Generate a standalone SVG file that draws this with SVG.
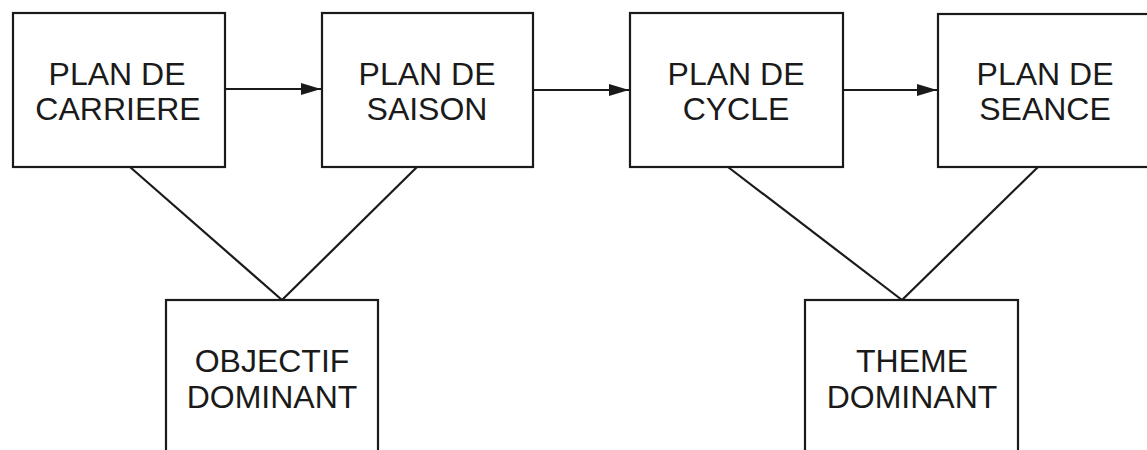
<svg xmlns="http://www.w3.org/2000/svg" width="1147" height="450" viewBox="0 0 1147 450">
<style>
.box{fill:#fff;stroke:#1a1a1a;stroke-width:2.2}
.lbl{font-family:"Liberation Sans",Arial,sans-serif;font-size:32px;fill:#1a1a1a;text-anchor:middle}
.ln{stroke:#1a1a1a;stroke-width:2.2;fill:none}
</style>
<defs>
<marker id="ah" viewBox="0 0 20 12" refX="20" refY="6" markerWidth="20" markerHeight="12" markerUnits="userSpaceOnUse" orient="auto">
<path d="M0,0 L20,6 L0,12 Z" fill="#1a1a1a"/>
</marker>
</defs>
<rect width="1147" height="450" fill="#fff"/>
<g id="connectors">
<line class="ln" x1="225" y1="89" x2="321" y2="89" marker-end="url(#ah)"/>
<line class="ln" x1="533" y1="90" x2="629" y2="90" marker-end="url(#ah)"/>
<line class="ln" x1="843" y1="90" x2="937" y2="90" marker-end="url(#ah)"/>
<line class="ln" x1="130" y1="167" x2="282" y2="300"/>
<line class="ln" x1="417" y1="167" x2="282" y2="300"/>
<line class="ln" x1="728" y1="167" x2="902" y2="300"/>
<line class="ln" x1="1038" y1="167" x2="902" y2="300"/>
</g>
<g id="plan-carriere">
<rect class="box" x="13" y="13" width="212" height="154"/>
<text class="lbl" x="117" y="85">PLAN DE</text>
<text class="lbl" x="118" y="120">CARRIERE</text>
</g>
<g id="plan-saison">
<rect class="box" x="322" y="13" width="211" height="154"/>
<text class="lbl" x="427" y="85">PLAN DE</text>
<text class="lbl" x="427" y="120">SAISON</text>
</g>
<g id="plan-cycle">
<rect class="box" x="630" y="13" width="213" height="154"/>
<text class="lbl" x="736" y="85">PLAN DE</text>
<text class="lbl" x="736" y="120">CYCLE</text>
</g>
<g id="plan-seance">
<rect class="box" x="938" y="14" width="215" height="153"/>
<text class="lbl" x="1045" y="85">PLAN DE</text>
<text class="lbl" x="1045" y="120">SEANCE</text>
</g>
<g id="objectif-dominant">
<rect class="box" x="166" y="300" width="212" height="160"/>
<text class="lbl" x="272" y="372">OBJECTIF</text>
<text class="lbl" x="272" y="408">DOMINANT</text>
</g>
<g id="theme-dominant">
<rect class="box" x="805" y="300" width="213" height="160"/>
<text class="lbl" x="912" y="372">THEME</text>
<text class="lbl" x="912" y="408">DOMINANT</text>
</g>
</svg>
